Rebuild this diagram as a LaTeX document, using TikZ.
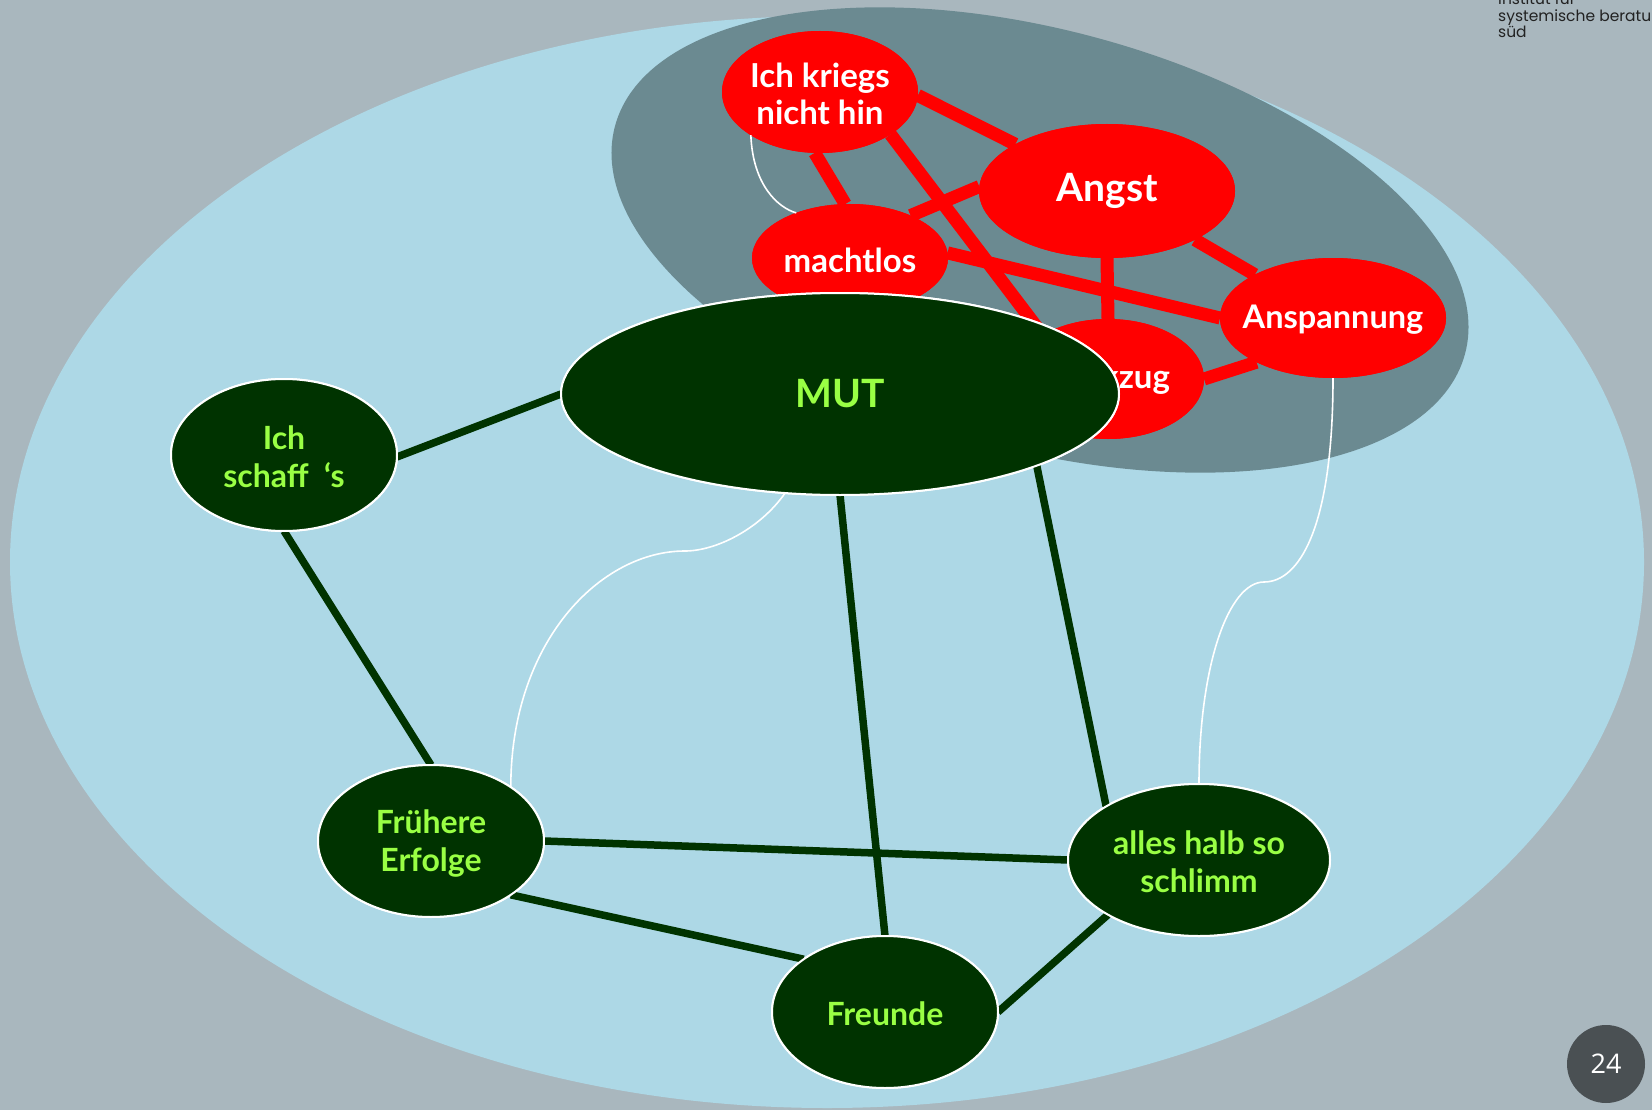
\documentclass[tikz,border=0pt]{standalone}
\usepackage{fontspec}
\setmainfont{Lato}
\newfontfamily\logofont{Poppins}
\newfontfamily\numfont{Open Sans}
\usetikzlibrary{shapes.geometric}
\definecolor{bggray}{HTML}{A9B7BE}
\definecolor{lblue}{HTML}{ADD8E6}
\definecolor{dgray}{HTML}{6B8A91}
\definecolor{dgreen}{HTML}{003300}
\definecolor{lgreen}{HTML}{99FF44}
\definecolor{pgc}{HTML}{4A5053}
\definecolor{logotext}{HTML}{222222}
\tikzset{
  redn/.style={ellipse, fill=red, inner sep=0pt, outer sep=0pt},
  greenn/.style={ellipse, fill=dgreen, draw=white, line width=2pt, inner sep=0pt, outer sep=0pt},
  redtxt/.style={inner sep=0pt, align=center, text=white, font=\bfseries\fontsize{33}{37}\selectfont},
  greentxt/.style={inner sep=0pt, align=center, text=lgreen, font=\bfseries\fontsize{32}{38}\selectfont},
  redl/.style={draw=red, line width=13pt},
  greenl/.style={draw=dgreen, line width=7.5pt},
  whitel/.style={draw=white, line width=1.6pt},
  logotxt/.style={anchor=base west, inner sep=0pt, text=logotext, font=\logofont\fontsize{15.5}{16}\selectfont}
}
\begin{document}
\begin{tikzpicture}[x=1pt,y=-1pt]
\useasboundingbox (0,0) rectangle (1652,1110);
\fill[bggray] (0,0) rectangle (1652,1110);
\fill[lblue] (827,562) ellipse [x radius=817pt, y radius=546pt];
\fill[dgray, rotate around={-15:(1040,240)}] (1040,240) ellipse [x radius=440pt, y radius=210pt];

% logo text
\node[logotxt] (l1) at (1498,5) {institut für};
\node[logotxt] (l2) at (1498,22) {systemische beratung};
\node[logotxt] (l3) at (1498,38) {süd};

% red nodes
\node[redn, minimum width=196pt, minimum height=122pt] (ik) at (820,92) {};
\node[redn, minimum width=256pt, minimum height=134pt] (angst) at (1107,191) {};
\node[redn, minimum width=196pt, minimum height=108pt] (mach) at (850,258) {};
\node[redn, minimum width=192pt, minimum height=120pt] (zug) at (1108,379) {};
\node[redn, minimum width=226pt, minimum height=120pt] (ansp) at (1333,318) {};

% red connectors
\draw[redl] (ik.-2) -- (angst.153);
\draw[redl] (ik.-95) -- (mach.95);
\draw[redl] (ik.-31) -- (zug.146);
\draw[redl] (mach.35) -- (angst.178);
\draw[redl] (mach.3) -- (ansp.180);
\draw[redl] (angst.-90) -- (zug.90);
\draw[redl] (angst.-29) -- (ansp.151);
\draw[redl] (zug.0) -- (ansp.210);

% red node fills again on top of connectors
\node[redn, minimum width=196pt, minimum height=122pt] (ikf) at (ik) {};
\node[redn, minimum width=256pt, minimum height=134pt] (angstf) at (angst) {};
\node[redn, minimum width=196pt, minimum height=108pt] (machf) at (mach) {};
\node[redn, minimum width=192pt, minimum height=120pt] (zugf) at (zug) {};
\node[redn, minimum width=226pt, minimum height=120pt] (anspf) at (ansp) {};

\node[redtxt] (ikt) at ([yshift=-2pt]ik.center) {Ich kriegs\\nicht hin};
\node[redtxt, font=\bfseries\fontsize{39}{40}\selectfont] (angstt) at (angst) {Angst};
\node[redtxt] (macht) at ([yshift=-2pt]mach.center) {machtlos};
\node[redtxt] (zugt) at (zug) {Rückzug};
\node[redtxt, font=\bfseries\fontsize{32.5}{37}\selectfont] (anspt) at ([yshift=-2pt]ansp.center) {Anspannung};

% white curves
\coordinate (c2) at (685,551);
\coordinate (c3) at (1264,582);
\draw[whitel] (ik.212) .. controls +(2,50) and +(-18,-5) .. (mach.140);

% green nodes (shapes)
\node[greenn, minimum width=226pt, minimum height=152pt] (isch) at (284,455) {};
\node[greenn, minimum width=226pt, minimum height=152pt] (fe) at (431,841) {};
\node[greenn, minimum width=262pt, minimum height=152pt] (ahs) at (1199,860) {};
\node[greenn, minimum width=226pt, minimum height=152pt] (fr) at (885,1012) {};
\node[greenn, minimum width=558pt, minimum height=202pt] (mut) at (840,394) {};

\draw[whitel] (mut.241) .. controls +(-26,37) and +(30,0) .. (c2) .. controls +(-85,0) and +(0,-145) .. (fe.34);
\draw[whitel] (ansp.-90) .. controls +(0,150) and +(35,0) .. (c3) .. controls +(-35,0) and +(0,-120) .. (ahs.90);

% green connectors
\draw[greenl] (isch.-1) -- (mut.180);
\draw[greenl] (isch.-90) -- (fe.90);
\draw[greenl] (mut.-90) -- (fr.90);
\draw[greenl] (mut.-20) -- (ahs.150);
\draw[greenl] (fe.0) -- (ahs.180);
\draw[greenl] (fe.-34) -- (fr.147);
\draw[greenl] (ahs.211) -- (fr.0);

% green nodes on top
\node[greenn, minimum width=226pt, minimum height=152pt] (ischf) at (isch) {};
\node[greenn, minimum width=226pt, minimum height=152pt] (fef) at (fe) {};
\node[greenn, minimum width=262pt, minimum height=152pt] (ahsf) at (ahs) {};
\node[greenn, minimum width=226pt, minimum height=152pt] (frf) at (fr) {};
\node[greenn, minimum width=558pt, minimum height=202pt] (mutf) at (mut) {};

\node[greentxt] (ischt) at ([yshift=-2pt]isch.center) {Ich\\schaff~~‘s};
\node[greentxt] (fet) at ([yshift=-2pt]fe.center) {Frühere\\Erfolge};
\node[greentxt] (ahst) at ([yshift=-2pt]ahs.center) {alles halb so\\schlimm};
\node[greentxt] (frt) at ([yshift=-2pt]fr.center) {Freunde};
\node[greentxt, font=\bfseries\fontsize{39}{40}\selectfont] (mutt) at (mut) {MUT};

% page number
\node[circle, fill=pgc, minimum size=78pt, inner sep=0pt] (pg) at (1606,1064) {};
\node[inner sep=0pt, text=white, font=\numfont\fontsize{27}{30}\selectfont] (pgt) at (pg) {24};
\end{tikzpicture}
\end{document}
